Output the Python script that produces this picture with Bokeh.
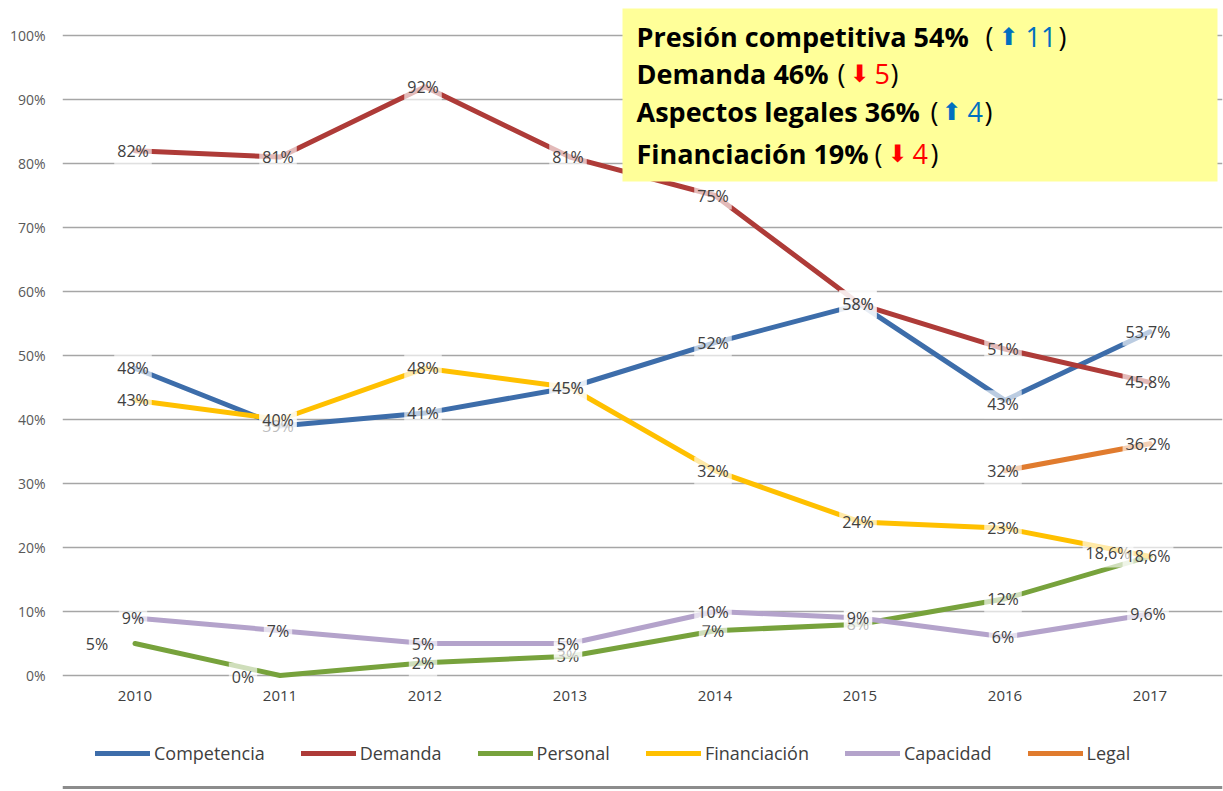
from bokeh.plotting import figure
from bokeh.models import (ColumnDataSource, Range1d, FixedTicker, PrintfTickFormatter,
                          Legend, LegendItem, BoxAnnotation, Span)
from bokeh.core.properties import value
from bokeh.embed import file_html
from bokeh.resources import INLINE

# ---------------- data ----------------
years = [2010, 2011, 2012, 2013, 2014, 2015, 2016, 2017]
competencia = [48, 39, 41, 45, 52, 58, 43, 53.7]
demanda = [82, 81, 92, 81, 75, 58, 51, 45.8]
personal = [5, 0, 2, 3, 7, 8, 12, 18.6]
financiacion = [43, 40, 48, 45, 32, 24, 23, 18.6]
capacidad = [9, 7, 5, 5, 10, 9, 6, 9.6]
legal = [None, None, None, None, None, None, 32, 36.2]
series_names = ["Competencia", "Demanda", "Personal", "Financiación", "Capacidad", "Legal"]
y_ticks = [0, 10, 20, 30, 40, 50, 60, 70, 80, 90, 100]

box_titles = ["Presión competitiva 54%", "Demanda 46%", "Aspectos legales 36%", "Financiación 19%"]
box_arrows = ["⬆", "⬇", "⬆", "⬇"]
box_changes = ["11", "5", "4", "4"]

# ---------------- style ----------------
colors = ["#3D6DAA", "#AE3B38", "#77A23C", "#FFC000", "#B4A3CB", "#E07B2E"]
FONT = "Open Sans"
LBL_COLOR = "#404040"

# per-label screen offsets (px) where Excel placed the label away from the point
label_offsets = {
    ("Personal", 2010): (-38, 0),
    ("Personal", 2011): (-37, 1),
    ("Personal", 2017): (-42, -3),
    ("Competencia", 2016): (-2, 4),
}

# frame spans page y 8..790 ; 6.4 px per percentage point ; 0% at page y 675
p = figure(frame_width=1160, frame_height=782, output_backend="svg", toolbar_location=None,
           x_range=Range1d(2009.5, 2017.5), y_range=Range1d(-17.96875, 104.21875),
           min_border_left=62, min_border_right=1, min_border_top=8, min_border_bottom=0)
p.outline_line_color = None
p.background_fill_color = "white"
p.xgrid.grid_line_color = None
p.ygrid.grid_line_color = "#A6A6A6"
p.ygrid.grid_line_width = 1.3
p.ygrid.ticker = FixedTicker(ticks=y_ticks)

p.yaxis.ticker = FixedTicker(ticks=y_ticks)
p.yaxis.formatter = PrintfTickFormatter(format="%d%%")
p.yaxis.axis_line_color = None
p.yaxis.major_tick_line_color = None
p.yaxis.minor_tick_line_color = None
p.yaxis.major_tick_out = 0
p.yaxis.major_label_standoff = 17
p.yaxis.major_label_text_font = FONT
p.yaxis.major_label_text_font_size = "14px"
p.yaxis.major_label_text_color = "#595959"

p.xaxis.ticker = FixedTicker(ticks=years)
p.xaxis.fixed_location = 0
p.xaxis.axis_line_color = None
p.xaxis.major_tick_line_color = None
p.xaxis.minor_tick_line_color = None
p.xaxis.major_tick_out = 0
p.xaxis.major_label_standoff = 15
p.xaxis.major_label_text_font = FONT
p.xaxis.major_label_text_font_size = "15px"
p.xaxis.major_label_text_color = LBL_COLOR

all_series = [competencia, demanda, personal, financiacion, capacidad, legal]


def nanify(vals):
    return [float("nan") if v is None else v for v in vals]


def fmt(v):
    return ("%g" % v).replace(".", ",") + "%"


line_renderers = []
for name, vals, col in zip(series_names, all_series, colors):
    src = ColumnDataSource(dict(x=years, y=nanify(vals)))
    r = p.line("x", "y", source=src, line_color=col, line_width=5, line_join="round", line_cap="round")
    line_renderers.append(r)

for name, vals in zip(series_names, all_series):
    xs, ys, ts, xo, yo = [], [], [], [], []
    for yr, v in zip(years, vals):
        if v is None:
            continue
        dx, dy = label_offsets.get((name, yr), (-2, 0))
        xs.append(yr); ys.append(v); ts.append(fmt(v)); xo.append(dx); yo.append(dy)
    src = ColumnDataSource(dict(x=xs, y=ys, t=ts, xo=xo, yo=yo))
    p.text("x", "y", text="t", source=src, x_offset="xo", y_offset="yo",
           text_font=value(FONT), text_font_size="16px", text_color=LBL_COLOR,
           text_align="center", text_baseline="middle",
           background_fill_color="white", background_fill_alpha=0.65, padding=3)


# --------------- annotation box ---------------
def px_x(px):
    return 2009.5 + (px - 62) / 145.0


def px_y(py):
    return (675 - py) / 6.4


box = BoxAnnotation(left=px_x(622), right=px_x(1217), top=px_y(6), bottom=px_y(181),
                    fill_color="#FFFF99", fill_alpha=1.0, line_color=None, level="annotation")
p.add_layout(box)

row_y = [36, 73, 111, 153]
open_x = [985, 837, 930, 874]
arrow_x = [998, 849, 941, 887]
num_x = [1025, 874, 967, 912]
close_x = [1058, 890, 984, 930]

for i in range(4):
    y = px_y(row_y[i])
    acol = "#0070C0" if box_arrows[i] == "⬆" else "#FF0000"
    p.text([px_x(636)], [y], text=[box_titles[i]], text_font=value(FONT), text_font_style="bold",
           text_font_size="27px", text_color="black", text_baseline="middle", text_align="left",
           level="overlay")
    p.text([px_x(open_x[i])], [y], text=["("], text_font=value(FONT),
           text_font_size="27px", text_color="black", text_baseline="middle", text_align="left",
           level="overlay")
    p.text([px_x(arrow_x[i])], [y], text=[box_arrows[i]], text_font=value("DejaVu Sans"),
           text_font_size="24px", text_color=acol,
           text_baseline="middle", text_align="left", level="overlay")
    p.text([px_x(num_x[i])], [y], text=[box_changes[i]], text_font=value(FONT),
           text_font_size="27px", text_color=acol, text_baseline="middle", text_align="left",
           level="overlay")
    p.text([px_x(close_x[i])], [y], text=[")"], text_font=value(FONT),
           text_font_size="27px", text_color="black", text_baseline="middle", text_align="left",
           level="overlay")

# bottom rule of the slide
p.add_layout(Span(location=px_y(787), dimension="width", line_color="#8C8C8C", line_width=3))

# --------------- legend (inside the frame, below the x labels) ---------------
legend = Legend(items=[LegendItem(label=n, renderers=[r]) for n, r in zip(series_names, line_renderers)],
                orientation="horizontal", location=(33, 25),
                glyph_width=55, glyph_height=20, label_standoff=4, spacing=36,
                label_text_font=FONT, label_text_font_size="18px", label_text_color=LBL_COLOR,
                border_line_color=None, background_fill_alpha=0, padding=6, margin=0)
p.add_layout(legend)

open("out.html", "w").write(file_html(p, INLINE))
